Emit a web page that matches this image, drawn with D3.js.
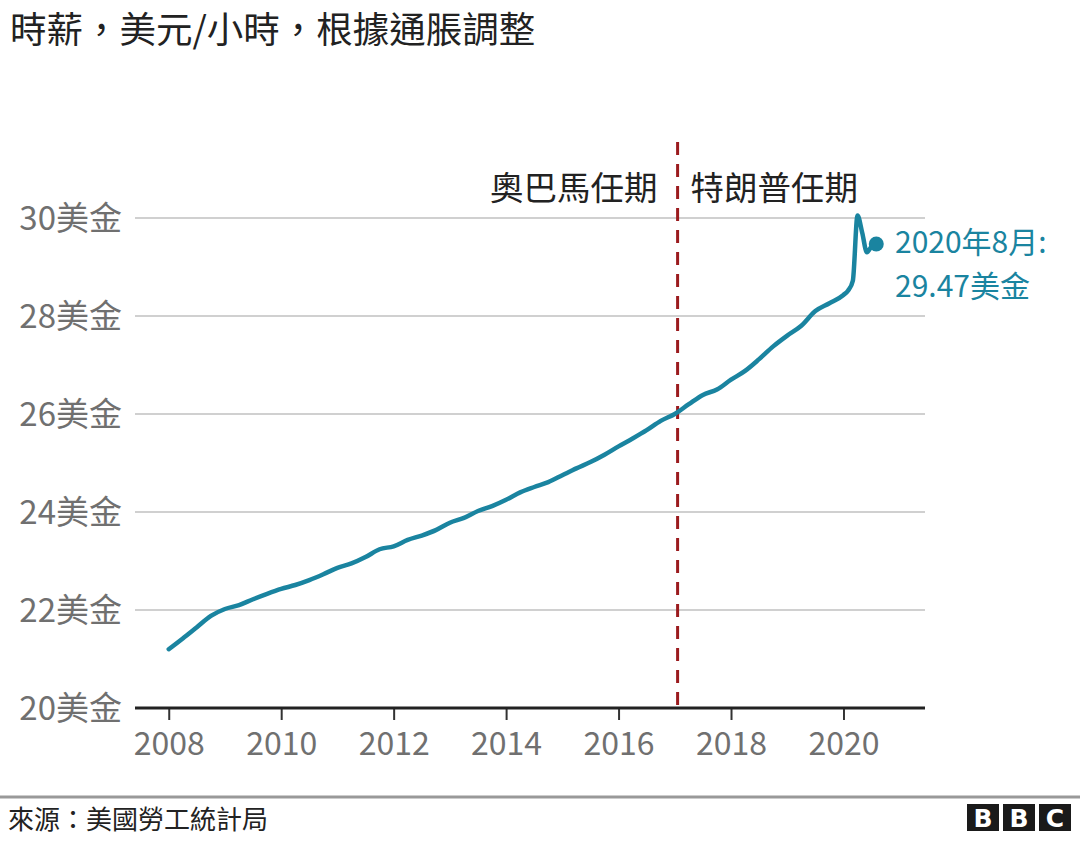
<!DOCTYPE html>
<html>
<head>
<meta charset="utf-8">
<script src="https://cdn.jsdelivr.net/npm/d3@7"></script>
<style>
  body { margin: 0; background: #fff; }
  svg { font-family: "Noto Sans CJK TC", "Noto Sans", sans-serif; }
</style>
</head>
<body>
<svg id="chart" width="1080" height="843"></svg>
<script>
const months = [
  "2008-01","2008-04","2008-07","2008-10",
  "2009-01","2009-04","2009-07","2009-10",
  "2010-01","2010-04","2010-07","2010-10",
  "2011-01","2011-04","2011-07","2011-10",
  "2012-01","2012-04","2012-07","2012-10",
  "2013-01","2013-04","2013-07","2013-10",
  "2014-01","2014-04","2014-07","2014-10",
  "2015-01","2015-04","2015-07","2015-10",
  "2016-01","2016-04","2016-07","2016-10",
  "2017-01","2017-04","2017-07","2017-10",
  "2018-01","2018-04","2018-07","2018-10",
  "2019-01","2019-04","2019-07","2019-10",
  "2020-01","2020-02","2020-03","2020-04","2020-05","2020-06","2020-07","2020-08"
];
const wages = [
  21.20, 21.42, 21.65, 21.88,
  22.02, 22.10, 22.22, 22.33,
  22.43, 22.51, 22.61, 22.73,
  22.86, 22.95, 23.08, 23.24,
  23.30, 23.43, 23.52, 23.63,
  23.78, 23.88, 24.02, 24.12,
  24.25, 24.40, 24.51, 24.61,
  24.75, 24.89, 25.02, 25.17,
  25.34, 25.50, 25.67, 25.86,
  26.00, 26.20, 26.39, 26.50,
  26.70, 26.88, 27.12, 27.38,
  27.60, 27.80, 28.10, 28.26,
  28.43, 28.52, 28.72, 30.05, 29.70, 29.30, 29.42, 29.47
];
const yTicks = [20, 22, 24, 26, 28, 30];
const xTicks = [2008, 2010, 2012, 2014, 2016, 2018, 2020];
const termChange = 2017.05; // 20 Jan 2017
const termLabels = ["奧巴馬任期", "特朗普任期"];
const title = "時薪，美元/小時，根據通脹調整";
const source = "來源：美國勞工統計局";
const lastLabel = ["2020年8月:", "29.47美金"];

const teal = "#1a84a0";
const svg = d3.select("#chart");

const toYear = s => {
  const [y, m] = s.split("-").map(Number);
  return y + (m - 1) / 12;
};
const data = months.map((m, i) => ({t: toYear(m), v: wages[i]}));

const x = d3.scaleLinear().domain([2007.4, 2021.45]).range([135, 925]);
const y = d3.scaleLinear().domain([20, 30]).range([708, 218]);

// title
svg.append("text")
  .attr("x", 10).attr("y", 43)
  .attr("font-size", 36.5)
  .attr("fill", "#222")
  .text(title);

// gridlines
svg.append("g")
  .selectAll("line")
  .data(yTicks.filter(d => d !== 20))
  .enter()
  .append("line")
  .attr("x1", 135).attr("x2", 925)
  .attr("y1", d => y(d)).attr("y2", d => y(d))
  .attr("stroke", "#d0d0d0")
  .attr("stroke-width", 2);

// y labels
svg.append("g")
  .selectAll("text")
  .data(yTicks)
  .enter()
  .append("text")
  .attr("x", 122)
  .attr("y", d => y(d))
  .attr("dy", "0.36em")
  .attr("text-anchor", "end")
  .attr("font-size", 33)
  .attr("fill", "#707070")
  .text(d => d + "美金");

// x axis
const xAxis = d3.axisBottom(x)
  .tickValues(xTicks)
  .tickFormat(d3.format("d"))
  .tickSize(12)
  .tickPadding(12);
const gx = svg.append("g")
  .attr("transform", `translate(0,${y(20)})`)
  .call(xAxis);
gx.select(".domain").remove();
gx.selectAll(".tick line").attr("stroke", "#333").attr("stroke-width", 2);
gx.selectAll(".tick text")
  .attr("font-size", 32)
  .attr("fill", "#707070")
  .attr("font-family", "\"Noto Sans CJK TC\", sans-serif");
svg.append("line")
  .attr("x1", 135).attr("x2", 925)
  .attr("y1", y(20)).attr("y2", y(20))
  .attr("stroke", "#222")
  .attr("stroke-width", 3);

// term divider
svg.append("line")
  .attr("x1", x(termChange)).attr("x2", x(termChange))
  .attr("y1", 142).attr("y2", y(20))
  .attr("stroke", "#9b1b1e")
  .attr("stroke-width", 3)
  .attr("stroke-dasharray", "13,9");

svg.append("text")
  .attr("x", x(termChange) - 20).attr("y", 200)
  .attr("text-anchor", "end")
  .attr("font-size", 33.5)
  .attr("fill", "#222")
  .text(termLabels[0]);
svg.append("text")
  .attr("x", x(termChange) + 13).attr("y", 200)
  .attr("font-size", 33.5)
  .attr("fill", "#222")
  .text(termLabels[1]);

// wage line
const line = d3.line()
  .x(d => x(d.t))
  .y(d => y(d.v))
  .curve(d3.curveMonotoneX);
svg.append("path")
  .datum(data)
  .attr("d", line)
  .attr("fill", "none")
  .attr("stroke", teal)
  .attr("stroke-width", 4.5)
  .attr("stroke-linejoin", "round")
  .attr("stroke-linecap", "round");

const last = data[data.length - 1];
svg.append("circle")
  .attr("cx", x(last.t)).attr("cy", y(last.v))
  .attr("r", 7.5)
  .attr("fill", teal);

svg.append("g")
  .selectAll("text")
  .data(lastLabel)
  .enter()
  .append("text")
  .attr("x", 895)
  .attr("y", (d, i) => 253 + i * 44)
  .attr("font-size", 30)
  .attr("fill", teal)
  .text(d => d);

// footer
svg.append("line")
  .attr("x1", 0).attr("x2", 1080)
  .attr("y1", 797).attr("y2", 797)
  .attr("stroke", "#999")
  .attr("stroke-width", 3);
svg.append("text")
  .attr("x", 8).attr("y", 829)
  .attr("font-size", 26)
  .attr("fill", "#222")
  .text(source);

// BBC blocks
const logo = svg.append("g").attr("transform", "translate(967,804)");
logo.selectAll("rect")
  .data(["B", "B", "C"])
  .enter()
  .append("rect")
  .attr("x", (d, i) => i * 36)
  .attr("width", 32).attr("height", 27)
  .attr("fill", "#1a1a1a");
logo.selectAll("text")
  .data(["B", "B", "C"])
  .enter()
  .append("text")
  .attr("x", (d, i) => i * 36 + 16)
  .attr("y", 23)
  .attr("text-anchor", "middle")
  .attr("font-family", "\"DejaVu Sans\", sans-serif")
  .attr("font-weight", "bold")
  .attr("font-size", 25)
  .attr("fill", "#fff")
  .text(d => d);
</script>
</body>
</html>
